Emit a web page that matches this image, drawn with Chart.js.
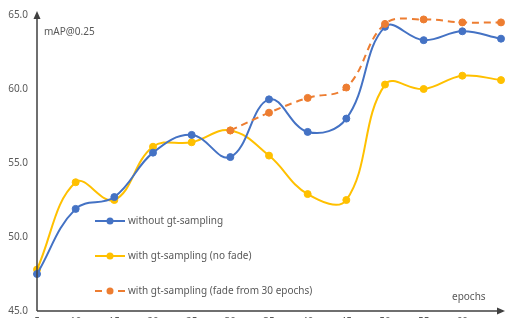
<!DOCTYPE html>
<html>
<head>
<meta charset="utf-8">
<script src="https://cdn.jsdelivr.net/npm/chart.js@4/dist/chart.umd.min.js"></script>
<style>
  html, body { margin: 0; padding: 0; background: #fff; overflow: hidden; }
  #wrap { width: 506px; height: 333px; }
</style>
</head>
<body>
<div id="wrap"><canvas id="mapChart"></canvas></div>
<script>
const epochs = ['5', '10', '15', '20', '25', '30', '35', '40', '45', '50', '55', '60', '65'];
const withoutGt = [47.5, 51.9, 52.7, 55.7, 56.9, 55.4, 59.3, 57.1, 58.0, 64.2, 63.3, 63.9, 63.4];
const gtNoFade = [47.8, 53.7, 52.5, 56.1, 56.4, 57.2, 55.5, 52.9, 52.5, 60.3, 60.0, 60.9, 60.6];
const gtFade30 = [null, null, null, null, null, 57.2, 58.4, 59.4, 60.1, 64.4, 64.7, 64.5, 64.5];
const yTicks = [45, 50, 55, 60, 65];

const textColor = '#595959';
const font = '"Noto Sans", sans-serif';

// axes with arrow heads, axis titles, legend rows inside the plot
const decor = {
    id: 'decor',
    afterDraw(chart) {
        const { ctx, chartArea: a } = chart;
        ctx.save();
        ctx.strokeStyle = '#404040';
        ctx.fillStyle = '#404040';
        ctx.lineWidth = 1.5;
        ctx.beginPath();
        ctx.moveTo(a.left, a.bottom);
        ctx.lineTo(a.left, a.top - 1);
        ctx.moveTo(a.left, a.bottom);
        ctx.lineTo(a.right + 2, a.bottom);
        ctx.stroke();
        ctx.beginPath();
        ctx.moveTo(a.left, a.top - 4);
        ctx.lineTo(a.left - 3.5, a.top + 4);
        ctx.lineTo(a.left + 3.5, a.top + 4);
        ctx.fill();
        ctx.beginPath();
        ctx.moveTo(a.right + 4, a.bottom);
        ctx.lineTo(a.right - 4, a.bottom - 3.5);
        ctx.lineTo(a.right - 4, a.bottom + 3.5);
        ctx.fill();

        ctx.font = '10px ' + font;
        ctx.fillStyle = textColor;
        ctx.textBaseline = 'middle';
        ctx.fillText('mAP@0.25', 44, 32);
        ctx.fillText('epochs', 452, 297);

        chart.data.datasets.forEach((ds, i) => {
            const y = 221 + i * 35;
            ctx.strokeStyle = ds.borderColor;
            ctx.lineWidth = 2;
            ctx.beginPath();
            if (ds.borderDash) {
                ctx.moveTo(95, y); ctx.lineTo(102, y);
                ctx.moveTo(118, y); ctx.lineTo(125, y);
            } else {
                ctx.moveTo(95, y); ctx.lineTo(125, y);
            }
            ctx.stroke();
            ctx.fillStyle = ds.borderColor;
            ctx.beginPath();
            ctx.arc(110, y, 3.5, 0, Math.PI * 2);
            ctx.fill();
            ctx.fillStyle = textColor;
            ctx.fillText(ds.label, 128, y);
        });
        ctx.restore();
    }
};

new Chart(document.getElementById('mapChart').getContext('2d'), {
    type: 'line',
    data: {
        labels: epochs,
        datasets: [{
            label: 'without gt-sampling',
            data: withoutGt,
            borderColor: '#4472C4',
            backgroundColor: '#4472C4',
            order: 1
        }, {
            label: 'with gt-sampling (no fade)',
            data: gtNoFade,
            borderColor: '#FFC000',
            backgroundColor: '#FFC000',
            order: 2
        }, {
            label: 'with gt-sampling (fade from 30 epochs)',
            data: gtFade30,
            borderColor: '#ED7D31',
            backgroundColor: '#ED7D31',
            borderDash: [7, 5],
            order: 0
        }]
    },
    options: {
        responsive: true,
        maintainAspectRatio: false,
        animation: false,
        layout: { padding: { top: 3, right: 2, left: 0, bottom: 0 } },
        elements: {
            line: { borderWidth: 2, tension: 0.4 },
            point: { radius: 3.5, borderWidth: 1, hoverRadius: 4 }
        },
        datasets: { line: { clip: false, spanGaps: false } },
        plugins: {
            legend: { display: false },
            tooltip: { enabled: false }
        },
        scales: {
            x: {
                offset: false,
                grid: { display: false, drawTicks: false },
                border: { display: false },
                ticks: {
                    color: textColor,
                    font: { size: 10, family: font },
                    padding: 5,
                    maxRotation: 0,
                    autoSkip: false,
                    callback: (v, i) => (i === epochs.length - 1 ? '' : epochs[i])
                }
            },
            y: {
                min: 45,
                max: 65,
                afterFit: s => { s.width = 37; },
                afterBuildTicks: s => { s.ticks = yTicks.map(v => ({ value: v })); },
                grid: { display: false, drawTicks: false },
                border: { display: false },
                ticks: {
                    color: textColor,
                    font: { size: 10, family: font },
                    padding: 9,
                    callback: v => v.toFixed(1)
                }
            }
        }
    },
    plugins: [decor]
});
</script>
</body>
</html>
